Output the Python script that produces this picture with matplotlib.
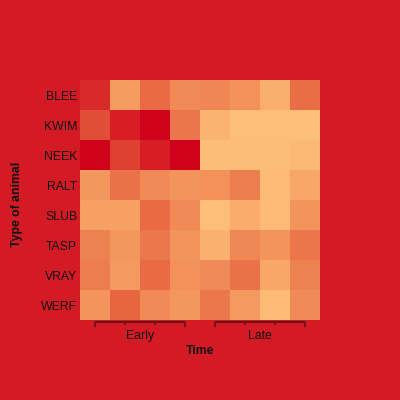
import numpy as np
import matplotlib.pyplot as plt
from matplotlib.colors import LinearSegmentedColormap

animals = ["BLEE", "KWIM", "NEEK", "RALT", "SLUB", "TASP", "VRAY", "WERF"]
groups = ["Early", "Late"]
n_per_group = 4

# intensity per animal, 8 time points (4 early, 4 late)
blee = [0.86, 0.35, 0.60, 0.45, 0.48, 0.42, 0.20, 0.58]
kwim = [0.72, 0.90, 1.00, 0.55, 0.15, 0.02, 0.02, 0.02]
neek = [1.00, 0.78, 0.90, 1.00, 0.03, 0.03, 0.03, 0.08]
ralt = [0.38, 0.57, 0.45, 0.40, 0.42, 0.52, 0.05, 0.28]
slub = [0.33, 0.33, 0.60, 0.46, 0.02, 0.22, 0.05, 0.40]
tasp = [0.50, 0.38, 0.54, 0.40, 0.18, 0.47, 0.40, 0.55]
vray = [0.52, 0.37, 0.60, 0.42, 0.45, 0.57, 0.28, 0.50]
werf = [0.40, 0.62, 0.45, 0.38, 0.54, 0.37, 0.05, 0.46]

values = np.array([blee, kwim, neek, ralt, slub, tasp, vray, werf])

bg = "#D31A25"
cmap = LinearSegmentedColormap.from_list(
    "heat",
    [(0.0, "#FEC079"), (0.3, "#F8A667"), (0.5, "#EE8352"),
     (0.6, "#E96A44"), (0.8, "#DD3D2F"), (1.0, "#D0021B")])

plt.rcParams['font.family'] = ['Liberation Sans', 'DejaVu Sans']

fig = plt.figure(figsize=(4, 4), dpi=100, facecolor=bg)
ax = fig.add_axes([0.2, 0.2, 0.6, 0.6])
ax.imshow(values, cmap=cmap, vmin=0, vmax=1, aspect='auto')
ax.set_facecolor(bg)
for s in ax.spines.values():
    s.set_visible(False)

ax.set_xticks([])
ax.set_yticks(range(len(animals)))
ax.set_yticklabels(animals, fontsize=8.8, color="#111111")
ax.tick_params(axis='y', length=0, pad=2)

# group brackets under the columns
line_col = "#6E1217"
for g, name in enumerate(groups):
    xs = np.arange(g * n_per_group, (g + 1) * n_per_group)
    ax.plot([xs[0], xs[-1]], [7.57, 7.57], color=line_col, lw=1.5, clip_on=False, solid_capstyle='butt')
    for i, x in enumerate(xs):
        end = 7.74 if i in (0, len(xs) - 1) else 7.65
        ax.plot([x, x], [7.55, end], color=line_col, lw=1.5, clip_on=False, solid_capstyle='butt')
    ax.text(xs.mean(), 8.02, name, ha='center', va='center', fontsize=8.8, color="#111111")

ax.set_xlim(-0.5, 7.5)
ax.set_ylim(7.5, -0.5)

fig.text(0.5, 0.123, "Time", ha='center', va='center', fontsize=8.8, fontweight='bold', color="#111111")
fig.text(0.042, 0.488, "Type of animal", ha='center', va='center', rotation=90, fontsize=8.8,
         fontweight='bold', color="#111111")

fig.savefig("out.png", dpi=100, facecolor=bg)
